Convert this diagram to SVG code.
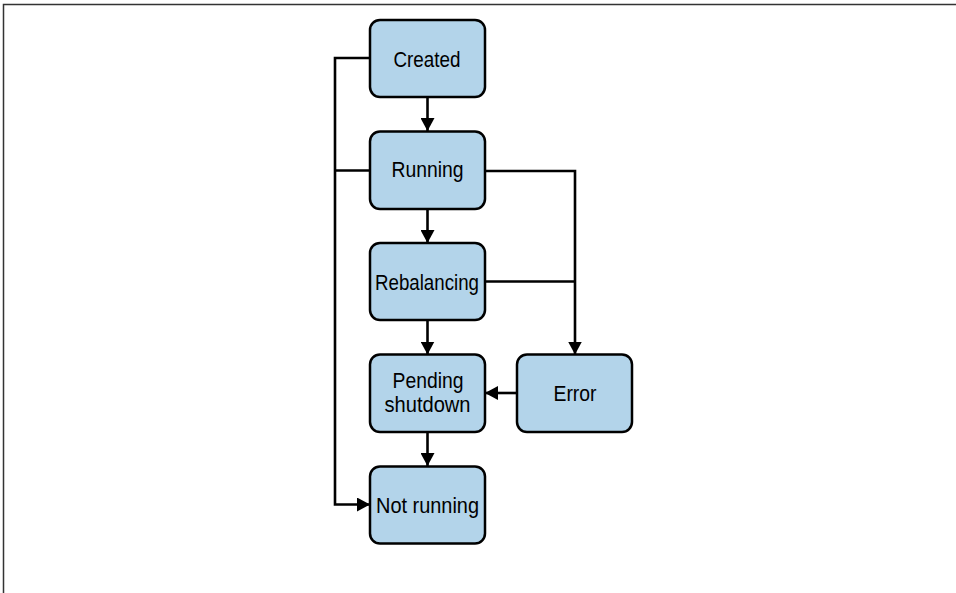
<svg xmlns="http://www.w3.org/2000/svg" width="956" height="593" viewBox="0 0 956 593">
<defs>
<marker id="arr" markerUnits="userSpaceOnUse" markerWidth="13" markerHeight="14" viewBox="0 0 13 14" refX="13" refY="7" orient="auto">
<path d="M0,0 L13,7 L0,14 Z" fill="#000"/>
</marker>
</defs>
<style>
.box{fill:#b3d4ea;stroke:#000;stroke-width:2.5}
.lbl{font-family:"Liberation Sans",Arial,sans-serif;font-size:22.5px;fill:#000;text-anchor:middle}
.c{fill:none;stroke:#000;stroke-width:2.6}
.frame{fill:none;stroke:#333;stroke-width:1.5}
</style>
<rect width="956" height="593" fill="#fff"/>
<path class="frame" d="M3.5,593 V4.5 H956"/>
<g id="connectors">
<path class="c" d="M427.5,97 V131" marker-end="url(#arr)"/>
<path class="c" d="M427.5,209 V243" marker-end="url(#arr)"/>
<path class="c" d="M427.5,320 V354.5" marker-end="url(#arr)"/>
<path class="c" d="M427.5,432 V466" marker-end="url(#arr)"/>
<path class="c" d="M517,393 H485" marker-end="url(#arr)"/>
<path class="c" d="M485,171 H575 V354.5" marker-end="url(#arr)"/>
<path class="c" d="M485,281.5 H575"/>
<path class="c" d="M370,58 H335 V504.5 H370" marker-end="url(#arr)"/>
<path class="c" d="M370,170.5 H335"/>
</g>
<g id="created">
<rect class="box" x="370" y="20" width="115" height="77" rx="10"/>
<text class="lbl" x="427" y="66.5" textLength="67" lengthAdjust="spacingAndGlyphs">Created</text>
</g>
<g id="running">
<rect class="box" x="370" y="131.5" width="115" height="77.5" rx="10"/>
<text class="lbl" x="427.5" y="177" textLength="72" lengthAdjust="spacingAndGlyphs">Running</text>
</g>
<g id="rebalancing">
<rect class="box" x="370" y="243" width="115" height="77" rx="10"/>
<text class="lbl" x="427" y="290" textLength="104" lengthAdjust="spacingAndGlyphs">Rebalancing</text>
</g>
<g id="pending-shutdown">
<rect class="box" x="370" y="354.5" width="115" height="77.5" rx="10"/>
<text class="lbl" x="428" y="388" textLength="71" lengthAdjust="spacingAndGlyphs" style="font-size:21.5px">Pending</text>
<text class="lbl" x="427.5" y="412" textLength="86" lengthAdjust="spacingAndGlyphs" style="font-size:21.5px">shutdown</text>
</g>
<g id="error">
<rect class="box" x="517" y="354.5" width="115" height="77.5" rx="10"/>
<text class="lbl" x="575" y="400.5" textLength="43" lengthAdjust="spacingAndGlyphs">Error</text>
</g>
<g id="not-running">
<rect class="box" x="370" y="466.5" width="115" height="77" rx="10"/>
<text class="lbl" x="427.5" y="512.5" textLength="103" lengthAdjust="spacingAndGlyphs">Not running</text>
</g>
</svg>
